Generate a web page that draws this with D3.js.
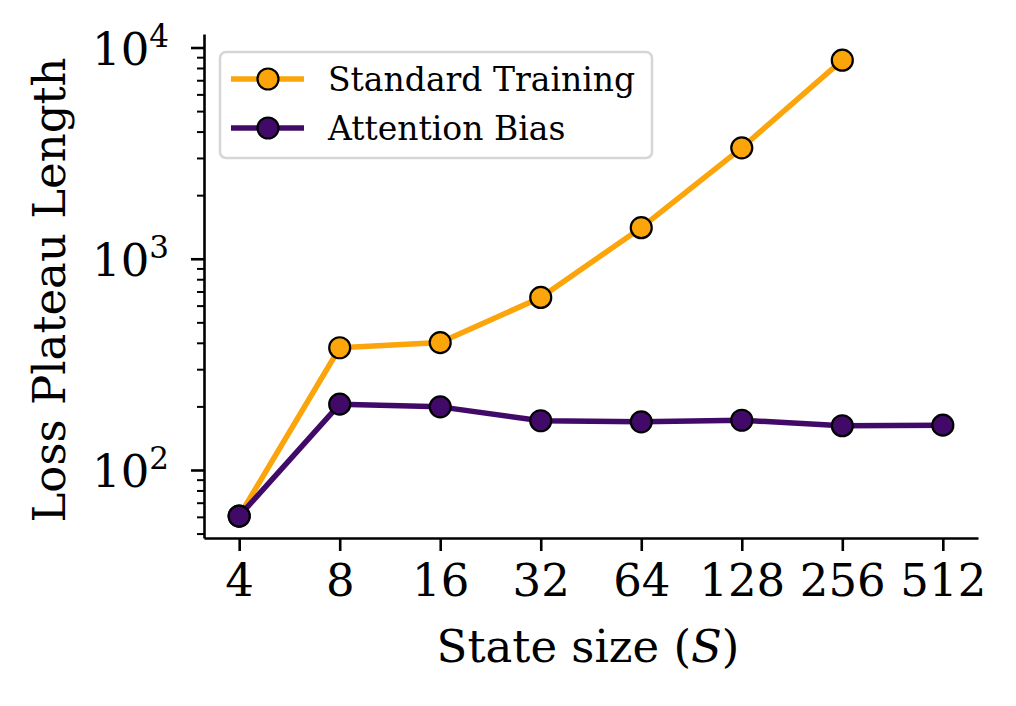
<!DOCTYPE html>
<html>
<head>
<meta charset="utf-8">
<script src="https://cdn.jsdelivr.net/npm/d3@7"></script>
<style>
  body { margin: 0; background: #fff; }
  svg { display: block; font-family: "DejaVu Serif", serif; }
</style>
</head>
<body>
<div class="container"></div>
<script>
// state sizes on the x axis
var stateSizes = [4, 8, 16, 32, 64, 128, 256, 512];
// loss plateau length
var standardTraining = [60.5, 379, 401, 656, 1403, 3350, 8710];
var attentionBias = [60.5, 205, 199, 171, 169, 172, 162, 163];
var seriesNames = ['Standard Training', 'Attention Bias'];
var seriesColors = ['#fca50a', '#420a68'];
var yMajor = [100, 1000, 10000];

const WIDTH = 1016;
const HEIGHT = 706;
const LEFT = 204, RIGHT = 978, TOP = 34, BOTTOM = 538;

var translate = (x, y) => (`translate(${x}, ${y})`);

// matplotlib style 5% margins on log axes
var lx0 = Math.log2(d3.min(stateSizes)), lx1 = Math.log2(d3.max(stateSizes));
var padX = 0.05 * (lx1 - lx0);
var xScale = d3.scaleLog().base(2)
    .domain([Math.pow(2, lx0 - padX), Math.pow(2, lx1 + padX)])
    .range([LEFT, RIGHT]);

var yScale = d3.scaleLog()
    .domain([Math.pow(10, 1.678), Math.pow(10, 4.064)])
    .range([BOTTOM, TOP]);

var svg = d3.select('.container').append('svg')
    .attr('width', WIDTH)
    .attr('height', HEIGHT);

// minor ticks on y
var yMinor = [];
[10, 100, 1000].forEach(function (dec) {
    for (var k = 2; k <= 9; k++) {
        var v = k * dec;
        if (v >= yScale.domain()[0] && v <= yScale.domain()[1]) yMinor.push(v);
    }
});

var yMinorAxis = d3.axisLeft(yScale).tickValues(yMinor).tickSize(7).tickFormat('');
svg.append('g').attr('transform', translate(LEFT, 0)).call(yMinorAxis)
    .call(g => g.select('.domain').remove())
    .selectAll('line').attr('stroke', '#000').attr('stroke-width', 2);

var yAxis = d3.axisLeft(yScale).tickValues(yMajor).tickSize(13).tickSizeOuter(0)
    .tickFormat('');
var yG = svg.append('g').attr('transform', translate(LEFT, 0)).call(yAxis);
yG.select('.domain').attr('stroke-width', 2.6);
yG.selectAll('.tick line').attr('stroke-width', 2.6);
yG.selectAll('.tick text').remove();
yG.selectAll('.tick').each(function (d) {
    var t = d3.select(this).append('text')
        .attr('x', -35)
        .attr('y', 17)
        .attr('fill', '#000')
        .attr('text-anchor', 'end')
        .style('font-family', '"DejaVu Serif", serif')
        .style('font-size', '45px');
    t.append('tspan').text('10');
    t.append('tspan').attr('dy', -18).style('font-size', '31px').text(String(Math.round(Math.log10(d))));
});

var xAxis = d3.axisBottom(xScale).tickValues(stateSizes).tickSize(13).tickSizeOuter(0).tickPadding(13)
    .tickFormat(d3.format('d'));
var xG = svg.append('g').attr('transform', translate(0, BOTTOM)).call(xAxis);
xG.select('.domain').attr('stroke-width', 2.6);
xG.selectAll('.tick line').attr('stroke-width', 2.6);
xG.selectAll('.tick text')
    .style('font-family', '"DejaVu Serif", serif')
    .style('font-size', '45px')
    .attr('fill', '#000');

// axis labels
var xLabel = svg.append('text')
    .attr('x', (LEFT + RIGHT) / 2 - 3)
    .attr('y', 662)
    .attr('text-anchor', 'middle')
    .style('font-size', '45px');
xLabel.append('tspan').text('State size (');
xLabel.append('tspan').style('font-style', 'italic').text('S');
xLabel.append('tspan').text(')');

svg.append('text')
    .attr('transform', translate(65, 290) + ' rotate(-90)')
    .attr('text-anchor', 'middle')
    .style('font-size', '45px')
    .text('Loss Plateau Length');

// series
var series = [standardTraining, attentionBias];
series.forEach(function (vals, i) {
    var pts = vals.map((v, j) => [stateSizes[j], v]);
    var line = d3.line()
        .x(d => xScale(d[0]))
        .y(d => yScale(d[1]));
    var g = svg.append('g');
    g.append('path')
        .attr('d', line(pts))
        .attr('fill', 'none')
        .attr('stroke', seriesColors[i])
        .attr('stroke-width', 5.5)
        .attr('stroke-linejoin', 'round');
    g.selectAll('circle')
        .data(pts)
        .enter().append('circle')
        .attr('cx', d => xScale(d[0]))
        .attr('cy', d => yScale(d[1]))
        .attr('r', 10.5)
        .attr('fill', seriesColors[i])
        .attr('stroke', '#000')
        .attr('stroke-width', 2.2);
});

// legend
var legend = svg.append('g');
legend.append('rect')
    .attr('x', 220).attr('y', 52)
    .attr('width', 432).attr('height', 106)
    .attr('rx', 6)
    .attr('fill', '#fff').attr('fill-opacity', 0.8)
    .attr('stroke', '#d6d6d6').attr('stroke-width', 2.5);
seriesNames.forEach(function (name, i) {
    var y = 79 + i * 49;
    legend.append('line')
        .attr('x1', 231).attr('x2', 304)
        .attr('y1', y).attr('y2', y)
        .attr('stroke', seriesColors[i]).attr('stroke-width', 5.5);
    legend.append('circle')
        .attr('cx', 268).attr('cy', y).attr('r', 10.5)
        .attr('fill', seriesColors[i])
        .attr('stroke', '#000').attr('stroke-width', 2.2);
    legend.append('text')
        .attr('x', 328).attr('y', y + 12)
        .style('font-size', '33px')
        .text(name);
});
</script>
</body>
</html>
